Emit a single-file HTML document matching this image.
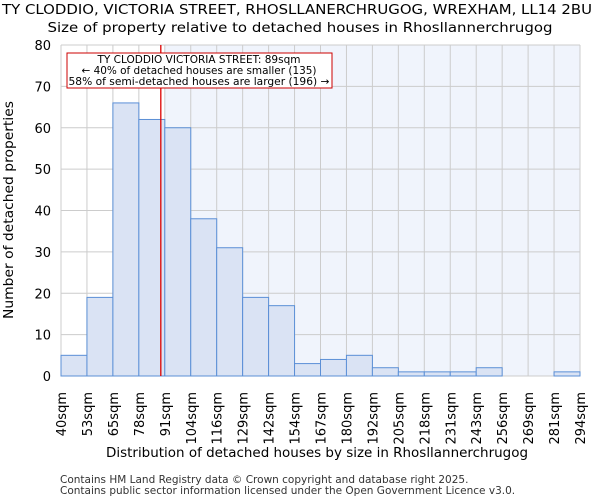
<!DOCTYPE html>
<html><head><meta charset="utf-8"><style>
body{margin:0;background:#fff;font-family:"DejaVu Sans","Liberation Sans",sans-serif}
svg text{font-family:"DejaVu Sans","Liberation Sans",sans-serif}
</style></head><body>
<svg id="c" width="600" height="500" xmlns="http://www.w3.org/2000/svg">
<text x="297" y="14" font-size="13" textLength="590" lengthAdjust="spacingAndGlyphs" text-anchor="middle">TY CLODDIO, VICTORIA STREET, RHOSLLANERCHRUGOG, WREXHAM, LL14 2BU</text>
<text x="300" y="32" font-size="13" textLength="505" lengthAdjust="spacingAndGlyphs" text-anchor="middle">Size of property relative to detached houses in Rhosllannerchrugog</text>
<g id="plot"></g>
<text x="317" y="457" font-size="13" textLength="422" lengthAdjust="spacingAndGlyphs" text-anchor="middle">Distribution of detached houses by size in Rhosllannerchrugog</text>
<text transform="translate(13,210) rotate(-90)" font-size="13" textLength="218" lengthAdjust="spacingAndGlyphs" text-anchor="middle">Number of detached properties</text>
<text x="60" y="483" font-size="10.5" fill="#333">Contains HM Land Registry data © Crown copyright and database right 2025.</text>
<text x="60" y="494" font-size="10.5" fill="#333">Contains public sector information licensed under the Open Government Licence v3.0.</text>
</svg>
<script>
const binLabels=["40sqm","53sqm","65sqm","78sqm","91sqm","104sqm","116sqm","129sqm","142sqm","154sqm","167sqm","180sqm","192sqm","205sqm","218sqm","231sqm","243sqm","256sqm","269sqm","281sqm","294sqm"];
const counts=[5,19,66,62,60,38,31,19,17,3,4,5,2,1,1,1,2,0,0,1];
const yTicks=[0,10,20,30,40,50,60,70,80];
const markerBin=3+11/13;
const NS="http://www.w3.org/2000/svg";
const L=61,R=580,T=45,B=376,YMAX=80;
const bw=(R-L)/counts.length;
const xs=i=>L+i*bw, ys=v=>B-(v/YMAX)*(B-T);
const g=document.getElementById('plot');
function mk(t,a){const e=document.createElementNS(NS,t);for(const k in a)e.setAttribute(k,a[k]);g.appendChild(e);return e;}
let e=mk('rect',{x:xs(4),y:T,width:R-xs(4),height:B-T,fill:'#f0f4fc'});


yTicks.forEach(v=>{let l=mk('line',{x1:L,x2:R,y1:ys(v),y2:ys(v),stroke:'#ccc'});


let t=mk('text',{x:L-10,y:ys(v)+5,'font-size':13,'text-anchor':'end'});t.textContent=v;

});
binLabels.forEach((s,i)=>{let l=mk('line',{x1:xs(i),x2:xs(i),y1:T,y2:B,stroke:'#ccc'});


let t=mk('text',{transform:`translate(${xs(i)+5},392) rotate(-90)`,'font-size':13,'text-anchor':'end'});t.textContent=s;

});
counts.forEach((v,i)=>{if(v<=0)return;let r=mk('rect',{x:xs(i),y:ys(v),width:bw,height:B-ys(v),fill:'#dae3f4',stroke:'#5b8fd6','stroke-width':1});

});
e=mk('line',{x1:xs(markerBin),x2:xs(markerBin),y1:T,y2:B,stroke:'#d00','stroke-width':1.3});


e=mk('rect',{x:67,y:53,width:265,height:35,fill:'#fff',stroke:'#c00'});


const annLines=["TY CLODDIO VICTORIA STREET: 89sqm","← 40% of detached houses are smaller (135)","58% of semi-detached houses are larger (196) →"];
const annWidths=[203,235,261];
annLines.forEach((s,i)=>{
let t=mk('text',{x:199,y:63+i*11,'font-size':10.5,'text-anchor':'middle',textLength:annWidths[i],lengthAdjust:'spacingAndGlyphs'});t.textContent=s;

});
</script>
</body></html>
